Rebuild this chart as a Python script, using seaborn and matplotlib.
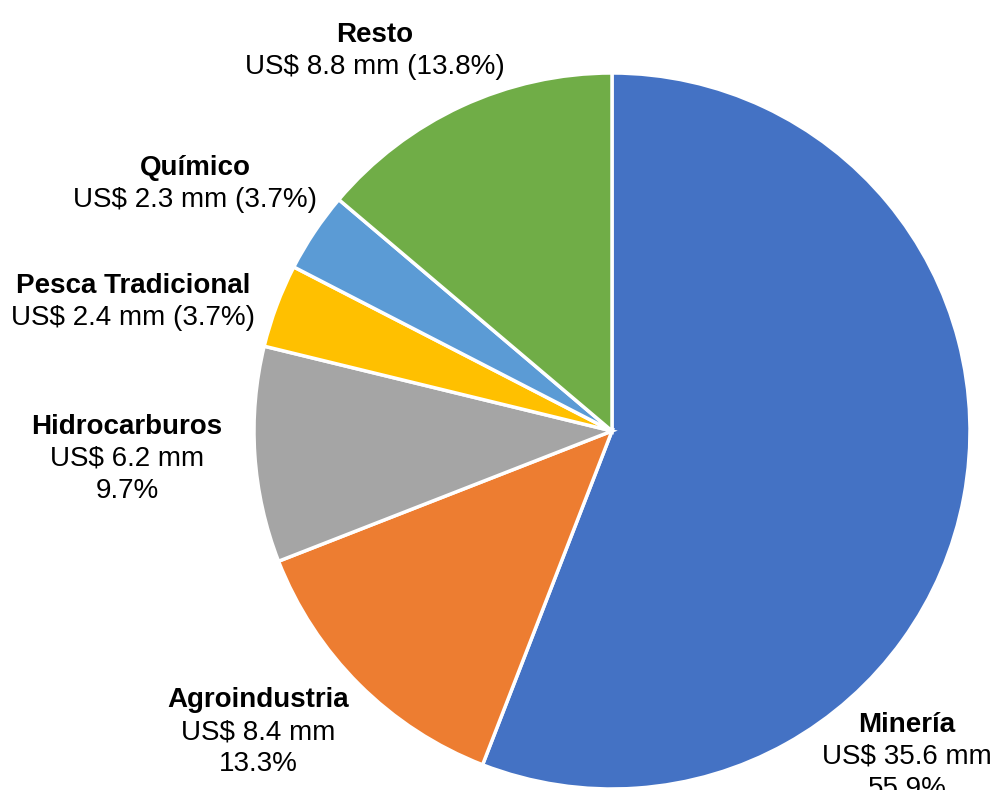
import matplotlib
matplotlib.use("Agg")
import matplotlib.pyplot as plt
import seaborn as sns

# Export composition by sector (US$ millions)
sectors = ["Minería", "Agroindustria", "Hidrocarburos", "Pesca Tradicional", "Químico", "Resto"]
values = [35.6, 8.4, 6.2, 2.4, 2.3, 8.8]
shares = ["55.9%", "13.3%", "9.7%", "3.7%", "3.7%", "13.8%"]
share_inline = [False, False, False, True, True, True]
colors = ["#4472C4", "#ED7D31", "#A5A5A5", "#FFC000", "#5B9BD5", "#70AD47"]

# Label anchors in figure pixels (centre x, middle of first line y)
label_pos = [(907, 722), (258, 697), (127, 424), (133, 283), (195, 165), (375, 32)]
LINE_STEP = 32

sns.set_theme(style="white")
plt.rcParams["font.family"] = ["Liberation Sans", "DejaVu Sans"]

W, H = 992, 790
fig = plt.figure(figsize=(W / 100, H / 100), dpi=100)
ax = fig.add_axes([0, 0, 1, 1])
ax.axis("off")

ax.pie(values, colors=colors, startangle=90, counterclock=False,
       center=(612, H - 431), radius=358,
       wedgeprops=dict(edgecolor="white", linewidth=2.5))
ax.set_xlim(0, W)
ax.set_ylim(0, H)
ax.set_aspect("equal")

for name, val, share, inline, (px, py) in zip(sectors, values, shares, share_inline, label_pos):
    lines = [f"US$ {val:.1f} mm ({share})"] if inline else [f"US$ {val:.1f} mm", share]
    fig.text(px / W, 1 - (py + 10) / H, name, ha="center", va="baseline",
             fontsize=20, fontweight="bold", color="black")
    for i, line in enumerate(lines, start=1):
        fig.text(px / W, 1 - (py + 10 + i * LINE_STEP) / H, line, ha="center",
                 va="baseline", fontsize=20, color="black")

fig.savefig("out.png", dpi=100)
